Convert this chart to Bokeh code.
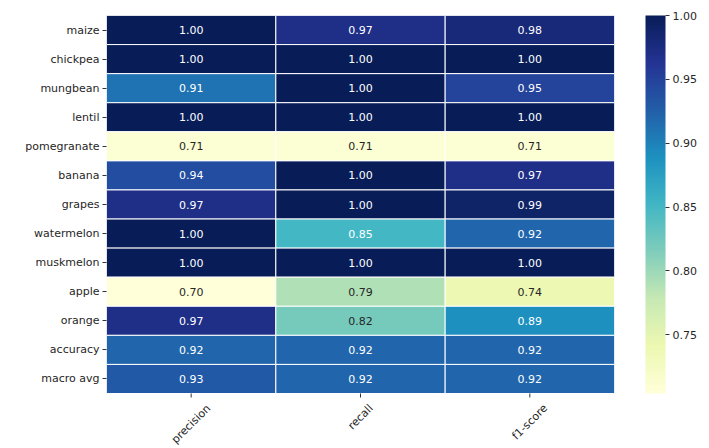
import math
from bokeh.plotting import figure
from bokeh.models import (ColumnDataSource, LinearColorMapper, ColorBar, FixedTicker,
                          PrintfTickFormatter, Range1d)
from bokeh.transform import transform
from bokeh.embed import file_html
from bokeh.resources import INLINE

classes = ["maize", "chickpea", "mungbean", "lentil", "pomegranate", "banana", "grapes",
           "watermelon", "muskmelon", "apple", "orange", "accuracy", "macro avg"]
metrics = ["precision", "recall", "f1-score"]
precision = [1.00, 1.00, 0.91, 1.00, 0.71, 0.94, 0.97, 1.00, 1.00, 0.704, 0.97, 0.92, 0.93]
recall = [0.97, 1.00, 1.00, 1.00, 0.71, 1.00, 1.00, 0.85, 1.00, 0.79, 0.82, 0.92, 0.92]
f1_score = [0.98, 1.00, 0.95, 1.00, 0.71, 0.97, 0.99, 0.92, 1.00, 0.74, 0.89, 0.92, 0.92]
cbar_ticks = [0.75, 0.80, 0.85, 0.90, 0.95, 1.00]

# YlGnBu (colorbrewer 9, light -> dark), interpolated to 256 like matplotlib
base = [(1.0, 1.0, 0.85098), (0.929412, 0.972549, 0.694118), (0.780392, 0.913725, 0.705882),
        (0.498039, 0.803922, 0.733333), (0.254902, 0.713725, 0.768627),
        (0.113725, 0.568627, 0.752941), (0.133333, 0.368627, 0.658824),
        (0.145098, 0.203922, 0.580392), (0.031373, 0.113725, 0.345098)]


def cmap(t):
    t = min(max(t, 0.0), 1.0)
    pos = t * (len(base) - 1)
    i = min(int(pos), len(base) - 2)
    f = pos - i
    return tuple(base[i][k] + (base[i + 1][k] - base[i][k]) * f for k in range(3))


def to_hex(c):
    return "#%02x%02x%02x" % tuple(int(round(v * 255)) for v in c)


palette = [to_hex(cmap(i / 255)) for i in range(256)]
series = {"precision": precision, "recall": recall, "f1-score": f1_score}
all_vals = precision + recall + f1_score
vmin, vmax = min(all_vals), max(all_vals)


def lum(c):
    lin = [v / 12.92 if v <= 0.03928 else ((v + 0.055) / 1.055) ** 2.4 for v in c]
    return 0.2126 * lin[0] + 0.7152 * lin[1] + 0.0722 * lin[2]


n_rows = len(classes)
xs, ys, vals, labels, tcol = [], [], [], [], []
for j, m in enumerate(metrics):
    for i, (c, v) in enumerate(zip(classes, series[m])):
        xs.append(j + 0.5)
        ys.append(n_rows - i - 0.5)
        vals.append(v)
        labels.append("%.2f" % v)
        col = cmap((v - vmin) / (vmax - vmin))
        tcol.append("#262626" if lum(col) > 0.408 else "#ffffff")

src = ColumnDataSource(dict(x=xs, y=ys, v=vals, label=labels, tc=tcol))
mapper = LinearColorMapper(palette=palette, low=vmin, high=vmax)

FONT = "DejaVu Sans"
HEAT_H = 378          # pixel height of the heatmap itself
FRAME_H = 433         # frame also holds the rotated x labels
unit = HEAT_H / n_rows
p = figure(x_range=Range1d(0, len(metrics)), y_range=Range1d(n_rows - FRAME_H / unit, n_rows),
           frame_width=508, frame_height=FRAME_H,
           min_border_left=106, min_border_top=15, min_border_bottom=0, min_border_right=10,
           output_backend="svg", toolbar_location=None)
p.outline_line_color = None
p.grid.grid_line_color = None
p.xaxis.visible = False
p.rect(x="x", y="y", width=1, height=1, source=src,
       fill_color=transform("v", mapper), line_color="#ffffff", line_width=1)
p.text(x="x", y="y", text="label", source=src, text_color="tc", text_align="center",
       text_baseline="middle", text_font_size="11px", text_font={"value": FONT})

ax = p.yaxis[0]
ax.ticker = FixedTicker(ticks=[n_rows - i - 0.5 for i in range(n_rows)])
ax.major_label_overrides = {n_rows - i - 0.5: c for i, c in enumerate(classes)}
ax.axis_line_color = None
ax.major_tick_in = 0
ax.major_tick_out = 4
ax.major_tick_line_color = "#333333"
ax.minor_tick_line_color = None
ax.major_label_text_font = FONT
ax.major_label_text_font_size = "11px"
ax.major_label_text_color = "#262626"
ax.major_label_standoff = 3

# x ticks + rotated x labels, centred under the tick (matplotlib style)
fs = 11.0
widths = {c: w for c, w in zip("precisonalfu-", [.635, .411, .615, .55, .278, .521, .612, .634, .613, .278, .352, .634, .361])}
tx, ty, tt, ta = [], [], [], []
for j, m in enumerate(metrics):
    L = sum(widths.get(ch, 0.6) for ch in m) * fs
    half = (L + fs) * math.sqrt(0.5) / 2
    tx.append(j + 0.5)
    ty.append(-(9 + half) / unit)
    tt.append(m)
    ta.append(math.pi / 4)
lsrc = ColumnDataSource(dict(x=tx, y=ty, t=tt, a=ta, y0=[0] * len(tx), y1=[-4 / unit] * len(tx)))
p.segment(x0="x", x1="x", y0="y0", y1="y1", source=lsrc, line_color="#333333", line_width=1)
p.text(x="x", y="y", text="t", angle="a", source=lsrc, text_align="center",
       text_baseline="middle", text_font_size="11px", text_font={"value": FONT},
       text_color="#262626")

cb = ColorBar(color_mapper=mapper, ticker=FixedTicker(ticks=cbar_ticks),
              formatter=PrintfTickFormatter(format="%.2f"), width=20, height=HEAT_H,
              margin=0, padding=0, major_tick_in=0, major_tick_out=4,
              major_tick_line_color="#333333", major_label_text_font=FONT,
              major_label_text_font_size="11px", major_label_text_color="#262626",
              bar_line_color=None, border_line_color=None, background_fill_color=None,
              label_standoff=3, location=(31, FRAME_H - HEAT_H))
p.add_layout(cb, "right")

open("out.html", "w").write(file_html(p, INLINE))
